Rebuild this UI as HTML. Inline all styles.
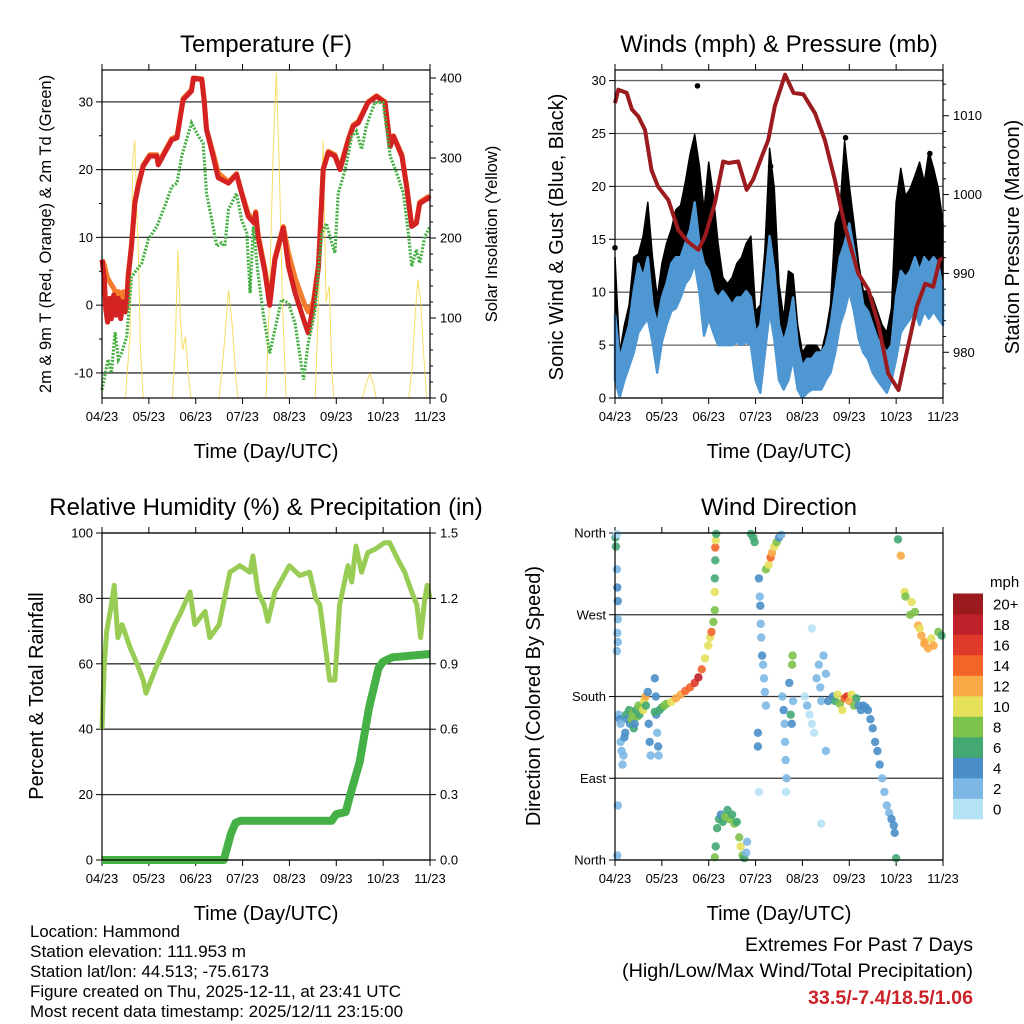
<!DOCTYPE html>
<html><head><meta charset="utf-8"><style>
html,body{margin:0;padding:0;background:#fff;}
svg{display:block;font-family:"Liberation Sans",sans-serif;}
</style></head><body>
<svg id="fig" width="1024" height="1024" viewBox="0 0 1024 1024" xmlns="http://www.w3.org/2000/svg">
<rect width="1024" height="1024" fill="#fff"/>
<g id="layer"></g>
<g font-size="16.5" fill="#000">
<text x="30" y="937" textLength="150" lengthAdjust="spacingAndGlyphs">Location: Hammond</text>
<text x="30" y="957" textLength="216" lengthAdjust="spacingAndGlyphs">Station elevation: 111.953 m</text>
<text x="30" y="977" textLength="239" lengthAdjust="spacingAndGlyphs">Station lat/lon: 44.513; -75.6173</text>
<text x="30" y="997" textLength="371" lengthAdjust="spacingAndGlyphs">Figure created on Thu, 2025-12-11, at 23:41 UTC</text>
<text x="30" y="1017" textLength="373" lengthAdjust="spacingAndGlyphs">Most recent data timestamp: 2025/12/11 23:15:00</text>
</g>
<g font-size="19" fill="#000">
<text x="745" y="951" textLength="228" lengthAdjust="spacingAndGlyphs">Extremes For Past 7 Days</text>
<text x="622" y="977" textLength="351" lengthAdjust="spacingAndGlyphs">(High/Low/Max Wind/Total Precipitation)</text>
<text x="808" y="1004" textLength="165" lengthAdjust="spacingAndGlyphs" fill="#cc2229" font-weight="bold">33.5/-7.4/18.5/1.06</text>
</g>
</svg>
<script>
// ---------- Temperature data ----------
const tDays=[0,0.05,0.08,0.12,0.16,0.2,0.25,0.3,0.35,0.4,0.45,0.5,0.53,0.56,0.63,0.7,0.77,0.88,1.02,1.17,1.2,1.34,1.49,1.6,1.73,1.91,1.95,2.13,2.18,2.23,2.37,2.48,2.7,2.87,2.98,3.12,3.25,3.28,3.33,3.48,3.58,3.69,3.87,3.98,4.12,4.33,4.4,4.51,4.62,4.72,4.83,4.97,5.08,5.26,5.36,5.47,5.54,5.68,5.86,6.04,6.15,6.22,6.4,6.5,6.61,6.71,6.78,6.96,7];
const tRed=[6.7,4,-0.5,-2.5,1,-2,1.5,-1.5,1,-2,0.5,-1,0,4.2,8.7,15,17.5,20.5,22,22,20.7,22.5,24.4,24.7,30.3,31.6,33.5,33.3,30.3,25.9,22,18.8,18,19.3,16.5,13.1,12.1,13.6,10.1,4.7,0,6.7,11.4,5.7,1.8,-2.7,-4.1,-0.2,5.7,20,22.5,22,20,24.4,26.4,26.9,27.9,29.9,30.8,29.9,23.4,24.9,22,17.5,11.6,12.1,15,15.8,15.6];
const tOrange=[6.7,6,5,4,3.5,3,2.5,1.5,2,1,2,0.5,1,4.5,8.9,15.2,17.8,20.7,22.2,22.2,20.9,22.7,24.6,24.9,30.5,31.8,33.5,33.4,30.4,26,22.5,19.5,18.2,19.4,16.7,13.5,12.5,13.8,10.5,5.2,0.5,7,11.6,7.7,4,0,-1,0.5,6,20.2,22.7,22.2,20.2,24.6,26.6,27.1,28.1,30,30.9,30,23.6,25,22.2,17.7,11.8,12.3,15.2,16,15.8];
const dDays=[0,0.13,0.2,0.28,0.35,0.42,0.53,0.63,0.85,0.99,1.17,1.34,1.49,1.6,1.7,1.91,2.06,2.16,2.23,2.37,2.45,2.55,2.62,2.7,2.87,2.98,3.09,3.16,3.23,3.33,3.44,3.58,3.83,3.98,4.12,4.3,4.4,4.54,4.69,4.79,4.9,4.97,5.04,5.19,5.33,5.43,5.54,5.64,5.82,6.0,6.15,6.29,6.43,6.54,6.61,6.71,6.78,6.89,7];
const tDew=[-12.5,-8,-10,-4,-8,-7,-4.6,4.2,6.2,9.7,11.6,14.6,17.5,18,22,26.9,24.9,23.9,16.5,11.6,8.7,9.2,8.7,14.1,16.5,12.6,10.6,1.8,11.6,4.7,-1.2,-7.1,0.8,0.3,-2.7,-11,-5.6,-1.2,10.6,12.1,9.2,7.7,16.5,20,24.9,25.7,23,26.4,29.9,29.9,22,19.5,16.5,10.6,5.7,8.2,6.2,10.1,11.6];
const solarDays=[0,0.5,0.6,0.66,0.7,0.74,0.78,0.82,0.88,1.5,1.56,1.62,1.67,1.72,1.78,1.84,1.9,2.5,2.6,2.7,2.78,2.85,2.9,3.5,3.57,3.65,3.72,3.78,3.85,3.93,4.55,4.62,4.72,4.78,4.85,4.9,4.95,5.55,5.65,5.72,5.8,5.85,6.55,6.62,6.68,6.74,6.8,6.86,6.93,7];
const solar=[0,0,80,300,322,240,175,60,0,0,60,185,100,60,77,30,0,0,60,135,90,30,0,0,120,300,407,300,120,0,0,120,322,120,140,40,0,0,20,30,15,0,0,40,100,148,120,60,0,0];
// ---------- Wind data (0.1-day bins) ----------
const windBinDays=[0,0.1,0.2,0.3,0.4,0.5,0.6,0.7,0.8,0.9,1.0,1.1,1.2,1.3,1.4,1.5,1.6,1.7,1.8,1.9,2.0,2.1,2.2,2.3,2.4,2.5,2.6,2.7,2.8,2.9,3.0,3.1,3.2,3.3,3.4,3.5,3.6,3.7,3.8,3.9,4.0,4.1,4.2,4.3,4.4,4.5,4.6,4.7,4.8,4.9,5.0,5.1,5.2,5.3,5.4,5.5,5.6,5.7,5.8,5.9,6.0,6.1,6.2,6.3,6.4,6.5,6.6,6.7,6.8,6.9,7.0];
const windMax=[7.9,3.7,5.3,6.9,10.1,12.7,11.4,13.3,8.8,6.9,9.5,10.8,12.7,13.3,13.3,14.6,15.9,18.5,14.6,12.7,12,10.1,9.5,10.1,9.5,8.8,9.5,9.5,10.1,9.5,6.2,6.9,10.8,15.3,12,6.9,5.3,6.9,9.5,5,3,3.7,3.7,4.3,4.3,5,6.9,10.1,13.3,14.6,16.5,14,11.4,8.8,8.2,6.9,5.6,5,4.3,5,9.5,12,11.4,12,13.3,12,13.3,12.7,13.3,12.7,10.1];
const windMin=[1.7,0.1,1.7,3,4.3,6.2,6.9,7.5,5.3,2.4,5.3,6.9,8.2,8.5,9.5,10.8,11.4,12.7,10.1,5.9,7.5,6.2,5,5,5,5,5.3,5,5.3,5,1.7,0.5,4.3,8.2,5.6,1.7,0.8,1.7,3.7,0.8,0,0.5,0.8,0.8,0.8,1.7,2.4,4.3,6.9,8.2,10.1,8.2,5.6,4.3,3.7,2.4,1.7,1.1,0.5,1.7,3.7,6.2,6.9,7.5,8.2,6.9,8.2,7.5,8.2,7.5,6.9];
const gustMax=[13.3,4.3,6.9,8.8,13.3,13.6,15.3,18.5,13.3,9.5,12.7,14.6,15.9,17.8,18.2,20.4,23,24.9,22,17.8,22.3,19.1,14.6,11.4,10.8,11.4,12.7,13.3,14.6,15.3,8.2,8.8,14,23.6,19.8,10.8,7.5,12,11.7,6.9,4.3,5,5,5,4.3,6.2,8.8,16.5,17.8,24.3,20.1,16.5,12.7,10.1,10.1,9.5,8.2,6.9,6.2,8.5,18.5,21.7,19.1,19.8,21,22.3,20.4,23.3,21.7,19.8,16.5];
const gustOutlierDays=[1.76,3.32,4.92,0.0,6.72];
const gustOutlierVals=[29.5,21.9,24.6,14.2,23.1];
const presDays=[0,0.07,0.25,0.36,0.5,0.64,0.78,0.92,1.14,1.35,1.56,1.78,1.92,2.13,2.31,2.42,2.63,2.81,2.95,3.13,3.27,3.41,3.63,3.81,4.02,4.27,4.48,4.69,4.91,5.19,5.41,5.62,5.83,6.05,6.19,6.44,6.62,6.79,6.93,7];
const pres=[1011.6,1013.3,1012.9,1010.8,1009.9,1008.2,1003.1,1001,999.3,995.5,994,993,994.7,998.9,1004.2,1004,1004.2,1000.6,1001.9,1004.8,1006.9,1011.2,1015.2,1012.9,1012.7,1010.3,1006.9,1001.9,995.9,990,987.9,983.6,977.3,975.2,979,985.8,988.7,988.3,991.7,991.9];
// ---------- RH / precip ----------
const rhDays=[0,0.05,0.1,0.2,0.26,0.34,0.43,0.6,0.75,0.88,0.94,1.13,1.34,1.55,1.66,1.88,1.98,2.2,2.3,2.5,2.73,2.94,3.16,3.22,3.33,3.46,3.54,3.69,4.0,4.22,4.43,4.56,4.65,4.86,4.97,5.07,5.25,5.33,5.42,5.54,5.67,5.82,6.03,6.14,6.31,6.46,6.61,6.72,6.8,6.89,6.94,7];
const rh=[40,60,70,78,84,68,72,65,60,55,51,58,65,72,75,82,72,76,68,72,88,90,88,93,82,78,73,82,90,87,88,80,78,55,55,78,90,85,96,88,94,95,97,97,92,88,82,78,68,80,84,80];
const pcpDays=[0,2.6,2.75,2.85,2.95,4.9,5.0,5.2,5.3,5.5,5.7,5.9,6.0,6.2,7];
const pcp=[0,0,0.12,0.17,0.18,0.18,0.21,0.22,0.3,0.45,0.7,0.88,0.91,0.93,0.945];
// ---------- Wind direction scatter ----------
const dirDays=[0.01,0.02,0.03,0.05,0.04,0.05,0.06,0.06,0.05,0.06,0.04,0.08,0.1,0.12,0.12,0.14,0.16,0.18,0.2,0.22,0.24,0.26,0.3,0.32,0.35,0.38,0.4,0.42,0.45,0.48,0.5,0.52,0.55,0.6,0.62,0.65,0.66,0.7,0.72,0.74,0.76,0.06,0.05,0.85,0.87,0.88,0.9,0.92,0.93,0.85,0.95,1.0,1.05,1.1,1.2,1.3,1.4,1.5,1.6,1.7,1.78,1.85,1.92,1.99,2.03,2.06,2.1,2.13,2.13,2.13,2.14,2.14,2.15,2.16,2.13,2.15,2.18,2.22,2.26,2.3,2.35,2.4,2.45,2.5,2.55,2.6,2.65,2.68,2.72,2.76,2.8,2.82,2.9,2.95,2.98,3.07,3.09,3.1,3.11,3.12,3.14,3.16,3.18,3.2,3.22,3.05,3.05,3.07,3.22,3.28,3.32,3.35,3.4,3.45,3.5,3.55,3.57,3.6,3.62,3.63,3.64,3.66,3.65,3.72,3.75,3.77,3.78,3.79,3.8,4.05,4.1,4.15,4.2,4.25,4.3,4.35,4.38,4.4,4.45,4.5,4.55,4.2,4.5,4.4,4.65,4.7,4.75,4.8,4.85,4.9,4.95,5.0,5.05,5.1,5.15,5.2,5.25,5.3,5.35,5.4,5.45,5.5,5.55,5.6,5.65,5.7,5.75,5.8,5.85,5.9,5.95,5.97,6.0,6.04,6.1,6.18,6.2,6.33,6.3,6.4,6.47,6.54,6.61,6.68,6.75,6.9,6.97,6.5,6.6,6.8];
const dirDeg=[355,345,358,359,320,300,285,265,250,240,230,160,155,150,130,120,105,115,135,140,160,155,165,150,155,162,145,150,165,158,170,160,168,165,175,180,170,185,150,130,115,60,5,200,180,160,140,125,115,163,165,168,170,172,174,178,182,186,190,195,201,210,222,236,245,251,262,275,295,310,330,344,352,359,3,15,35,45,50,42,48,55,45,50,40,42,25,15,5,2,8,20,359,355,350,310,290,280,260,245,225,215,200,185,170,140,125,75,320,325,333,338,345,350,355,358,180,165,150,130,110,90,75,195,160,150,215,225,175,180,170,160,150,140,200,215,190,175,225,205,175,255,120,40,180,175,182,172,165,178,180,175,182,170,178,170,165,170,168,165,155,145,130,120,105,90,75,60,52,45,38,30,2,353,335,295,290,284,270,273,258,247,240,233,244,251,247,255,238,236];
const dirSpd=[6,6,2,0,2,4,4,2,2,2,2,2,4,2,2,2,2,2,4,4,6,4,6,4,8,8,6,4,6,8,8,6,8,10,10,12,6,4,4,4,2,2,2,4,4,4,2,4,2,6,6,6,8,8,10,12,12,14,14,16,18,14,10,10,10,14,8,8,10,6,6,14,10,6,8,6,6,6,4,6,8,6,8,6,8,6,8,10,8,6,2,2,6,6,6,4,2,4,2,2,4,2,2,2,2,4,4,0,8,10,14,12,10,8,4,2,2,4,2,2,2,2,0,4,6,4,8,8,2,0,2,0,0,0,2,2,2,2,2,2,4,0,2,0,4,6,10,8,10,14,16,12,10,8,6,4,4,4,4,4,4,4,4,4,4,2,2,2,2,4,4,4,6,6,12,10,8,10,8,8,12,12,12,12,10,8,6,10,12,12];
const cbLabels=["0","2","4","6","8","10","12","14","16","18","20+"];
const cbColors=["#b6e2f6","#7db8e4","#4a8fc8","#44a872","#7dc24b","#e6e05a","#f9a945","#f26529","#e03a2b","#c0202a","#9b1a1e"];
const xTickLabels=["04/23","05/23","06/23","07/23","08/23","09/23","10/23","11/23"];

const NS="http://www.w3.org/2000/svg";
const layer=document.getElementById('layer');
function mk(tag,attrs,parent){const e=document.createElementNS(NS,tag);for(const k in attrs)e.setAttribute(k,attrs[k]);(parent||layer).appendChild(e);return e;}
function txt(s,attrs,parent){const e=mk('text',attrs,parent);e.textContent=s;return e;}
function scale(d0,d1,r0,r1){return v=>r0+(v-d0)/(d1-d0)*(r1-r0);}
function pathOf(xs,ys,sx,sy){return xs.map((d,i)=>(i?'L':'M')+sx(d).toFixed(1)+','+sy(ys[i]).toFixed(1)).join('');}

function panel(name,x0,x1,y0,y1,title,xtitle){
  const g=mk('g',{});
  
  
  const t=txt(title,{x:(x0+x1)/2,y:y0-18,'text-anchor':'middle','font-size':24},g);
  
  
  const xt=txt(xtitle,{x:(x0+x1)/2,y:y1+60,'text-anchor':'middle','font-size':20},g);
  
  
  const sx=scale(0,7,x0,x1);
  xTickLabels.forEach((l,i)=>{
    const x=sx(i);
    mk('line',{x1:x,x2:x,y1:y1,y2:y1+6,stroke:'#000','stroke-width':1},g);
    mk('line',{x1:x,x2:x,y1:y0,y2:y0-6,stroke:'#000','stroke-width':1},g);
    const tl=txt(l,{x:x,y:y1+23,'text-anchor':'middle','font-size':13},g);
    
    
  });
  return {g,sx};
}
function frame(g,x0,x1,y0,y1){mk('rect',{x:x0,y:y0,width:x1-x0,height:y1-y0,fill:'none',stroke:'#000','stroke-width':1.2},g);}
function yTicks(g,side,x,vals,labels,sy,minor,x0,x1,grid,gridColor){
  vals.forEach((v,i)=>{
    const y=sy(v);
    if(grid) mk('line',{x1:x0,x2:x1,y1:y,y2:y,stroke:gridColor,'stroke-width':1.3},g);
    mk('line',{x1:x,x2:x+(side==='L'?-6:6),y1:y,y2:y,stroke:'#000','stroke-width':1},g);
    const t=txt(labels[i],{x:x+(side==='L'?-9:10),y:y+4.5,'text-anchor':side==='L'?'end':'start','font-size':13},g);
    
    
  });
  (minor||[]).forEach(v=>{const y=sy(v);mk('line',{x1:x,x2:x+(side==='L'?-3:3),y1:y,y2:y,stroke:'#000','stroke-width':1},g);});
}
function vtitle(g,s,x,y,size,name){const t=txt(s,{x:0,y:0,'text-anchor':'middle','font-size':size,transform:`translate(${x},${y}) rotate(-90)`},g);}

// ===== Panel 1: Temperature =====
(function(){
  const x0=102,x1=430,y0=70,y1=398;
  const {g,sx}=panel('temperature-panel',x0,x1,y0,y1,'Temperature (F)','Time (Day/UTC)');
  const sy=scale(-13.7,34.7,y1,y0), sr=scale(0,410,y1,y0);
  yTicks(g,'L',x0,[-10,0,10,20,30],['-10','0','10','20','30'],sy,[-5,5,15,25],x0,x1,true,'#333');
  yTicks(g,'R',x1,[0,100,200,300,400],['0','100','200','300','400'],sr,[20,40,60,80,120,140,160,180,220,240,260,280,320,340,360,380],x0,x1,false);
  const s=mk('path',{d:pathOf(solarDays,solar,sx,sr),fill:'none',stroke:'#f7d84a','stroke-width':1,opacity:0.85},g);
  
  const o=mk('path',{d:pathOf(tDays,tOrange,sx,sy),fill:'none',stroke:'#f47c2c','stroke-width':5,'stroke-linejoin':'round'},g);
  
  const r=mk('path',{d:pathOf(tDays,tRed,sx,sy),fill:'none',stroke:'#d42121','stroke-width':5,'stroke-linejoin':'round'},g);
  
  const d=mk('path',{d:pathOf(dDays,tDew,sx,sy),fill:'none',stroke:'#47b045','stroke-width':3.2,'stroke-dasharray':'2 1.5'},g);
  
  frame(g,x0,x1,y0,y1);
  vtitle(g,'2m & 9m T (Red, Orange) & 2m Td (Green)',51,234,16.5,'y-axis-title-left');
  vtitle(g,'Solar Insolation (Yellow)',497,234,16.5,'y-axis-title-right');
})();

// ===== Panel 2: Winds =====
(function(){
  const x0=615,x1=943,y0=70,y1=398;
  const {g,sx}=panel('winds-panel',x0,x1,y0,y1,'Winds (mph) & Pressure (mb)','Time (Day/UTC)');
  const sy=scale(0,31.0,y1,y0), sp=scale(974.2,1015.8,y1,y0);
  yTicks(g,'L',x0,[0,5,10,15,20,25,30],['0','5','10','15','20','25','30'],sy,[],x0,x1,true,'#666');
  yTicks(g,'R',x1,[980,990,1000,1010],['980','990','1000','1010'],sp,[976,978,982,984,986,988,992,994,996,998,1002,1004,1006,1008,1012,1014],x0,x1,false);
  let top=windBinDays.map((d,i)=>sx(d).toFixed(1)+','+sy(gustMax[i]).toFixed(1));
  let bot=windBinDays.map((d,i)=>sx(d).toFixed(1)+','+sy(windMin[i]).toFixed(1)).reverse();
  const gb=mk('polygon',{points:top.concat(bot).join(' '),fill:'#000',stroke:'#000','stroke-width':1.5,'stroke-linejoin':'round'},g);
  
  gustOutlierDays.forEach((d,i)=>{const c=mk('circle',{cx:sx(d),cy:sy(gustOutlierVals[i]),r:2.8,fill:'#000'},g);});
  top=windBinDays.map((d,i)=>sx(d).toFixed(1)+','+sy(windMax[i]).toFixed(1));
  bot=windBinDays.map((d,i)=>sx(d).toFixed(1)+','+sy(windMin[i]).toFixed(1)).reverse();
  const wb=mk('polygon',{points:top.concat(bot).join(' '),fill:'#4f97d2',stroke:'#4f97d2','stroke-width':2.5,'stroke-linejoin':'round'},g);
  
  const p=mk('path',{d:pathOf(presDays,pres,sx,sp),fill:'none',stroke:'#9b1b1e','stroke-width':4,'stroke-linejoin':'round'},g);
  
  frame(g,x0,x1,y0,y1);
  vtitle(g,'Sonic Wind & Gust (Blue, Black)',563,237,20,'y-axis-title-left');
  vtitle(g,'Station Pressure (Maroon)',1019,237,20,'y-axis-title-right');
})();

// ===== Panel 3: RH & precip =====
(function(){
  const x0=102,x1=430,y0=533,y1=860;
  const {g,sx}=panel('humidity-precip-panel',x0,x1,y0,y1,'Relative Humidity (%) & Precipitation (in)','Time (Day/UTC)');
  const sy=scale(0,100,y1,y0), sr=scale(0,1.5,y1,y0);
  yTicks(g,'L',x0,[0,20,40,60,80,100],['0','20','40','60','80','100'],sy,[],x0,x1,true,'#333');
  yTicks(g,'R',x1,[0,0.3,0.6,0.9,1.2,1.5],['0.0','0.3','0.6','0.9','1.2','1.5'],sr,[],x0,x1,false);
  const r=mk('path',{d:pathOf(rhDays,rh,sx,sy),fill:'none',stroke:'#99cc55','stroke-width':5,'stroke-linejoin':'round'},g);
  
  const p=mk('path',{d:pathOf(pcpDays,pcp,sx,sr),fill:'none',stroke:'#45b045','stroke-width':8,'stroke-linejoin':'round'},g);
  
  frame(g,x0,x1,y0,y1);
  vtitle(g,'Percent & Total Rainfall',43,696,20,'y-axis-title-left');
})();

// ===== Panel 4: Wind direction =====
(function(){
  const x0=615,x1=943,y0=533,y1=860;
  const {g,sx}=panel('wind-direction-panel',x0,x1,y0,y1,'Wind Direction','Time (Day/UTC)');
  const sy=scale(0,360,y1,y0);
  yTicks(g,'L',x0,[0,90,180,270,360],['North','East','South','West','North'],sy,[],x0,x1,true,'#333');
  const bin=v=>Math.min(10,Math.floor(v/2));
  dirDays.forEach((d,i)=>{
    const c=mk('circle',{cx:sx(d).toFixed(1),cy:sy(dirDeg[i]).toFixed(1),r:4.2,fill:cbColors[bin(dirSpd[i])],opacity:0.9},g);
    
    
  });
  frame(g,x0,x1,y0,y1);
  vtitle(g,'Direction (Colored By Speed)',540,696,20,'y-axis-title-left');
  const cb=mk('g',{},g);
  
  
  const h=20.5, yb=819;
  cbLabels.forEach((l,i)=>{
    const y=yb-(i+1)*h;
    const rc=mk('rect',{x:953,y:y,width:30,height:h+0.3,fill:cbColors[i]},cb);
    
    const t=txt(l,{x:993,y:y+h/2+5.5,'font-size':15},cb);
    
  });
  const u=txt('mph',{x:990,y:587,'font-size':15},cb);
  
})();
</script>
</body></html>
